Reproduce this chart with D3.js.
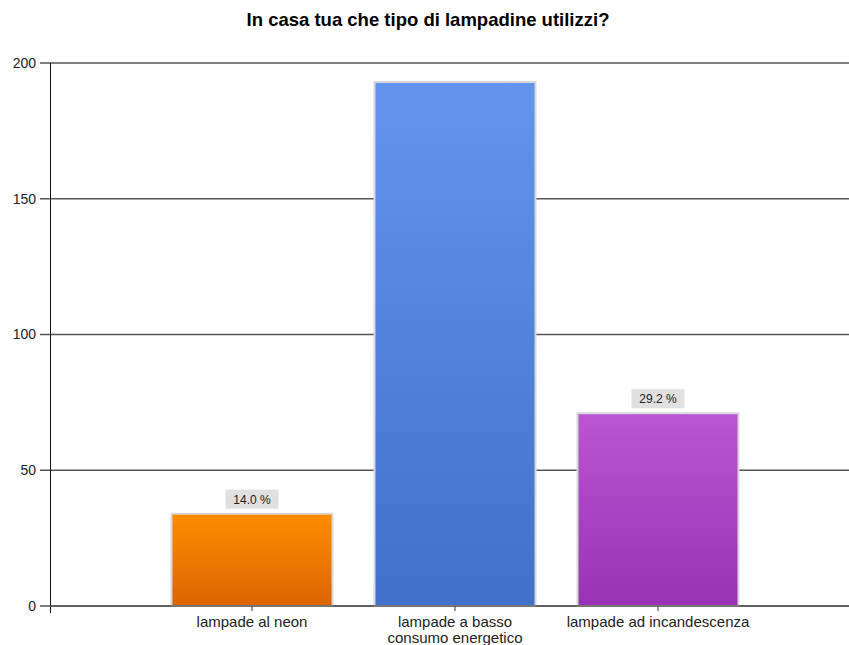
<!DOCTYPE html>
<html><head><meta charset="utf-8">
<script src="https://cdn.jsdelivr.net/npm/d3@7"></script>
<style>
body{margin:0;background:#fff;}
svg{display:block;font-family:"Liberation Sans",Arial,sans-serif;}
</style></head>
<body>
<svg id="c" width="849" height="645"></svg>
<script>
const title = "In casa tua che tipo di lampadine utilizzi?";
const categories = ["lampade al neon", "lampade a basso consumo energetico", "lampade ad incandescenza"];
const values = [34, 193, 71];
const pctLabels = ["14.0 %", null, "29.2 %"];
const yTicks = [0, 50, 100, 150, 200];
const topColors = ["#ff8c00", "#6495ed", "#ba55d3"];
const bottomColors = ["#dc6400", "#4070c8", "#9932b4"];

const svg = d3.select("#c");
const x0 = 50, x1 = 849, y0 = 606, y1 = 63;
const x = d3.scaleBand().domain(categories).range([150.5, 759.5]).padding(0);
const y = d3.scaleLinear().domain([0, 200]).range([y0, y1]);

const defs = svg.append("defs");
categories.forEach((c, i) => {
  const g = defs.append("linearGradient").attr("id", "g" + i).attr("x1", 0).attr("x2", 0).attr("y1", 0).attr("y2", 1);
  g.append("stop").attr("offset", "0%").attr("stop-color", topColors[i]);
  g.append("stop").attr("offset", "100%").attr("stop-color", bottomColors[i]);
});

svg.append("text").attr("x", 428).attr("y", 26).attr("text-anchor", "middle")
  .attr("font-size", 18.5).attr("font-weight", "bold").attr("fill", "#000").text(title);

// gridlines
svg.append("g").selectAll("line").data(yTicks).join("line")
  .attr("x1", 40).attr("x2", x1).attr("y1", d => y(d)).attr("y2", d => y(d))
  .attr("stroke", "#555").attr("stroke-width", 1.6);

// y axis
const ya = svg.append("g").attr("transform", `translate(${x0},0)`)
  .call(d3.axisLeft(y).tickValues(yTicks).tickSize(10).tickPadding(4));
ya.select(".domain").remove();
ya.selectAll(".tick line").remove();
ya.selectAll("text").attr("font-size", 14).attr("fill", "#222").attr("font-family", "Liberation Sans, Arial, sans-serif");
svg.append("line").attr("x1", x0 + 0.5).attr("x2", x0 + 0.5).attr("y1", y1).attr("y2", 613)
  .attr("stroke", "#111").attr("stroke-width", 1);

// bars
const bw = 161;
svg.append("g").selectAll("rect").data(categories).join("rect")
  .attr("x", d => x(d) + x.bandwidth() / 2 - bw / 2)
  .attr("width", bw)
  .attr("y", (d, i) => y(values[i]))
  .attr("height", (d, i) => y0 - y(values[i]))
  .attr("fill", (d, i) => `url(#g${i})`)
  .attr("stroke", "#d8d8d8").attr("stroke-width", 2);

// x axis
const xa = svg.append("g").attr("transform", `translate(0,${y0})`)
  .call(d3.axisBottom(x).tickSize(5).tickPadding(6));
xa.select(".domain").remove();
xa.selectAll(".tick line").attr("stroke", "#333");
svg.append("line").attr("x1", x0).attr("x2", x1).attr("y1", y0).attr("y2", y0)
  .attr("stroke", "#555").attr("stroke-width", 1.6);
xa.selectAll(".tick text").each(function(d) {
  const t = d3.select(this);
  t.text(null).attr("font-size", 15).attr("fill", "#222").attr("font-family", "Liberation Sans, Arial, sans-serif").attr("y", 10).attr("dy", "0.71em");
  const lines = d.length > 26 ? ["lampade a basso", "consumo energetico"] : [d];
  lines.forEach((l, k) => t.append("tspan").attr("x", 0).attr("dy", k === 0 ? "0.71em" : 16).text(l));
});

// percent labels
const lg = svg.append("g");
categories.forEach((c, i) => {
  if (!pctLabels[i]) return;
  const cx = x(c) + x.bandwidth() / 2;
  const top = y(values[i]);
  lg.append("rect").attr("x", cx - 26.5).attr("y", top - 24).attr("width", 53).attr("height", 19).attr("fill", "#e0e0e0");
  lg.append("text").attr("x", cx).attr("y", top - 10).attr("text-anchor", "middle")
    .attr("font-size", 12).attr("fill", "#222").text(pctLabels[i]);
});
</script>
</body></html>
